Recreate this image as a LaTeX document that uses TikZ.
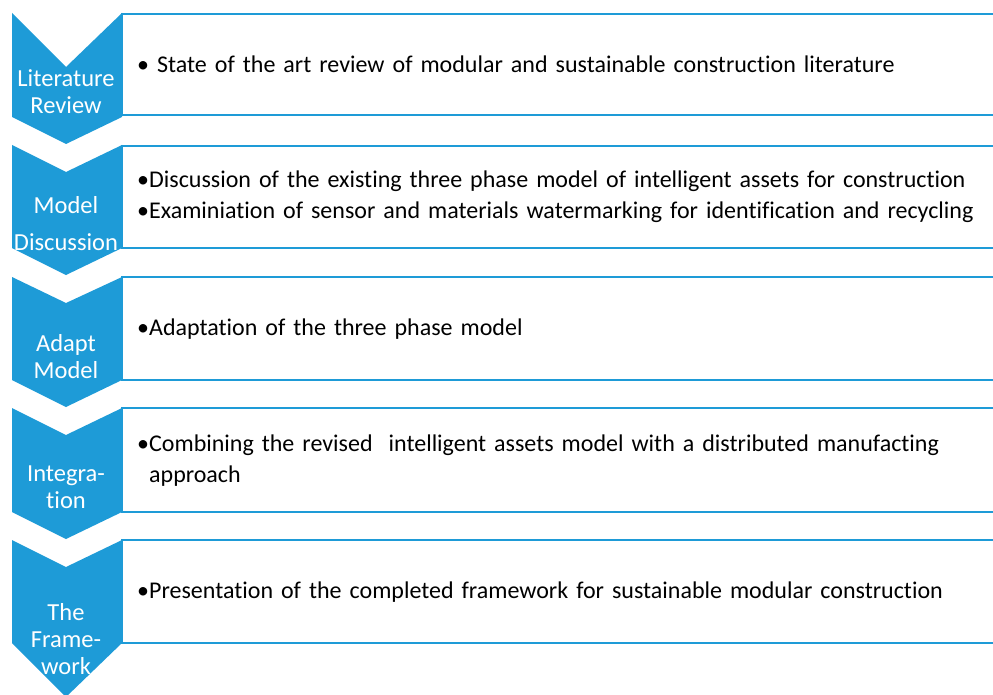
\documentclass[tikz,border=0pt]{standalone}
\usepackage{fontspec}
\setmainfont{Carlito}[Ligatures=CommonOff]
\definecolor{chevblue}{RGB}{30,155,215}

\begin{document}
\begin{tikzpicture}[x=1pt, y=-1pt,
    chev/.style={fill=chevblue},
    edge/.style={draw=chevblue, line width=2pt},
    chevtext/.style={text=white, align=center, inner sep=0pt, font=\fontsize{24.5}{27}\selectfont},
    boxtext/.style={anchor=north west, inner xsep=15pt, inner ysep=0pt, text width=856pt, align=left, font=\fontsize{24}{31}\selectfont}]
    \useasboundingbox (0,0) rectangle (993,695);

    % Chevrons
    \fill[chev] (12,13) -- (66,67) -- (122,13) -- (122,117) -- (66,144) -- (12,117) -- cycle;
    \fill[chev] (12,145) -- (66,172) -- (122,145) -- (122,248) -- (66,275) -- (12,248) -- cycle;
    \fill[chev] (12,277) -- (66,303) -- (122,277) -- (122,380) -- (66,407) -- (12,380) -- cycle;
    \fill[chev] (12,408) -- (66,435) -- (122,408) -- (122,512) -- (66,539) -- (12,512) -- cycle;
    \fill[chev] (12,540) -- (66,567) -- (122,540) -- (122,643) -- (66,697) -- (12,643) -- cycle;

    \node[chevtext] (c1) at (66,92) {Literature\\Review};
    \node[chevtext, font=\fontsize{24.5}{37}\selectfont] (c2) at (66,224) {Model\\Discussion};
    \node[chevtext] (c3) at (66,357) {Adapt\\Model};
    \node[chevtext] (c4) at (66,487) {Integra-\\tion};
    \node[chevtext] (c5) at (66,639) {The\\Frame-\\work};

    % Boxes
    \node[boxtext, minimum height=101pt] (b1) at (122,14) {•~State of the art review of modular and sustainable construction literature};
    \node[boxtext, minimum height=102pt] (b2) at (122,146) {•Discussion of the existing three phase model of intelligent assets for construction\\•Examiniation of sensor and materials watermarking for identification and recycling};
    \node[boxtext, minimum height=103pt] (b3) at (122,277) {•Adaptation of the three phase model};
    \node[boxtext, minimum height=104pt] (b4) at (122,408) {•Combining the revised~ intelligent assets model with a distributed manufacting\\\phantom{•}approach};
    \node[boxtext, minimum height=103pt] (b5) at (122,540) {•Presentation of the completed framework for sustainable modular construction};

    \draw[edge] ([xshift=871pt]b1.north west) -- (b1.north west) -- (b1.south west) -- ([xshift=871pt]b1.south west);
    \draw[edge] ([xshift=871pt]b2.north west) -- (b2.north west) -- (b2.south west) -- ([xshift=871pt]b2.south west);
    \draw[edge] ([xshift=871pt]b3.north west) -- (b3.north west) -- (b3.south west) -- ([xshift=871pt]b3.south west);
    \draw[edge] ([xshift=871pt]b4.north west) -- (b4.north west) -- (b4.south west) -- ([xshift=871pt]b4.south west);
    \draw[edge] ([xshift=871pt]b5.north west) -- (b5.north west) -- (b5.south west) -- ([xshift=871pt]b5.south west);
\end{tikzpicture}
\end{document}
